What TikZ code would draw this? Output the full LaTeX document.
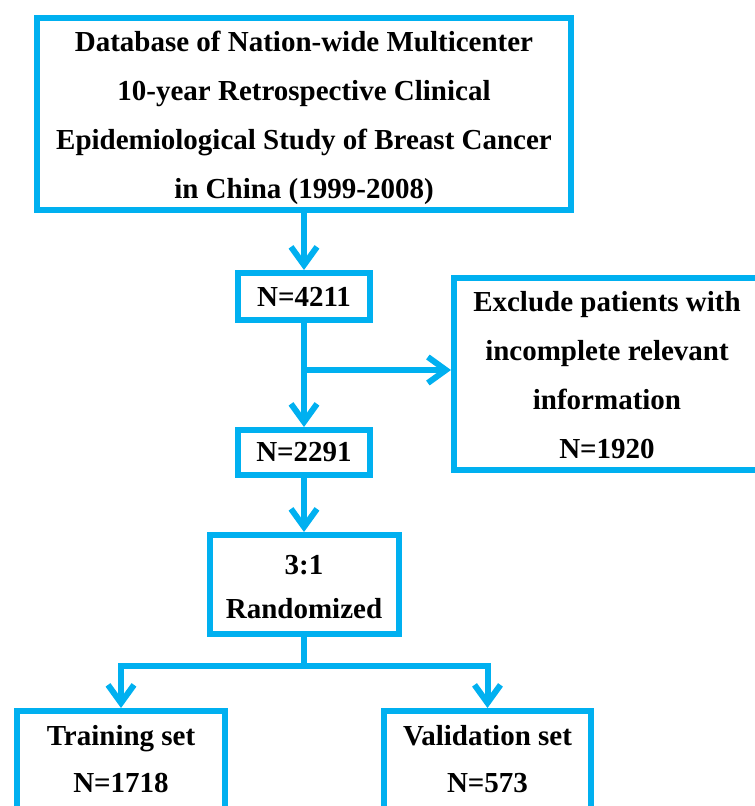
\documentclass[tikz,border=0pt]{standalone}
\usepackage{fontspec}
\setmainfont{Liberation Serif}
\usetikzlibrary{arrows.meta}
\definecolor{flowblue}{RGB}{0,176,240}
\begin{document}
\begin{tikzpicture}[x=1pt,y=-1pt,
  box/.style={draw=flowblue, line width=6pt, rectangle, inner sep=0pt, font=\fontsize{29}{48}\selectfont\bfseries, align=center},
  txt/.style={inner sep=0pt, font=\fontsize{29}{49}\selectfont\bfseries, align=center},
  conn/.style={draw=flowblue, line width=6pt},
  arr/.style={conn, -{Straight Barb[length=18pt,width=26pt,line width=6pt]}}]
\useasboundingbox (0,0) rectangle (755,806);
\clip (0,0) rectangle (755,806);
\node[box, minimum width=534pt, minimum height=192pt] (db) at (304,114) {};
\node[txt] (dbtxt) at (304,118) {Database of Nation-wide Multicenter\\10-year Retrospective Clinical\\Epidemiological Study of Breast Cancer\\in China (1999-2008)};
\node[box, minimum width=132pt, minimum height=47pt] (n1) at (304,296.5) {N=4211};
\node[box, minimum width=132pt, minimum height=45pt] (n2) at (304,452.5) {N=2291};
\node[box, anchor=north west, minimum width=360pt, minimum height=192pt] (ex) at (451,275) {};
\node[txt] (extxt) at (607,375) {Exclude patients with\\incomplete relevant\\information\\N=1920};
\node[box, minimum width=189pt, minimum height=99pt] (rnd) at (304,584.5) {};
\node[txt, font=\fontsize{29}{44}\selectfont\bfseries] (rndtxt) at (304,587) {3:1\\Randomized};
\node[box, anchor=north, minimum width=208pt, minimum height=150pt] (tr) at (121,708) {};
\node[txt, font=\fontsize{29}{47}\selectfont\bfseries] (trtxt) at (121,759) {Training set\\N=1718};
\node[box, anchor=north, minimum width=207pt, minimum height=150pt] (va) at (487.5,708) {};
\node[txt, font=\fontsize{29}{47}\selectfont\bfseries] (vatxt) at (487.5,759) {Validation set\\N=573};
\coordinate (br) at (304,370);
\coordinate (sp) at (304,666);
\coordinate (spl) at (121,666);
\coordinate (spr) at (487.5,666);
\draw[arr] (db.south -| n1) -- (n1.north);
\draw[arr] (n1.south) -- (n2.north);
\draw[arr] (br) -- (br -| ex.west);
\draw[arr] (n2.south) -- (rnd.north);
\draw[conn] (rnd.south) -- (sp);
\draw[conn] ([xshift=-3pt]spl) -- ([xshift=3pt]spr);
\draw[arr] (spl) -- (tr.north);
\draw[arr] (spr) -- (va.north);
\end{tikzpicture}
\end{document}
